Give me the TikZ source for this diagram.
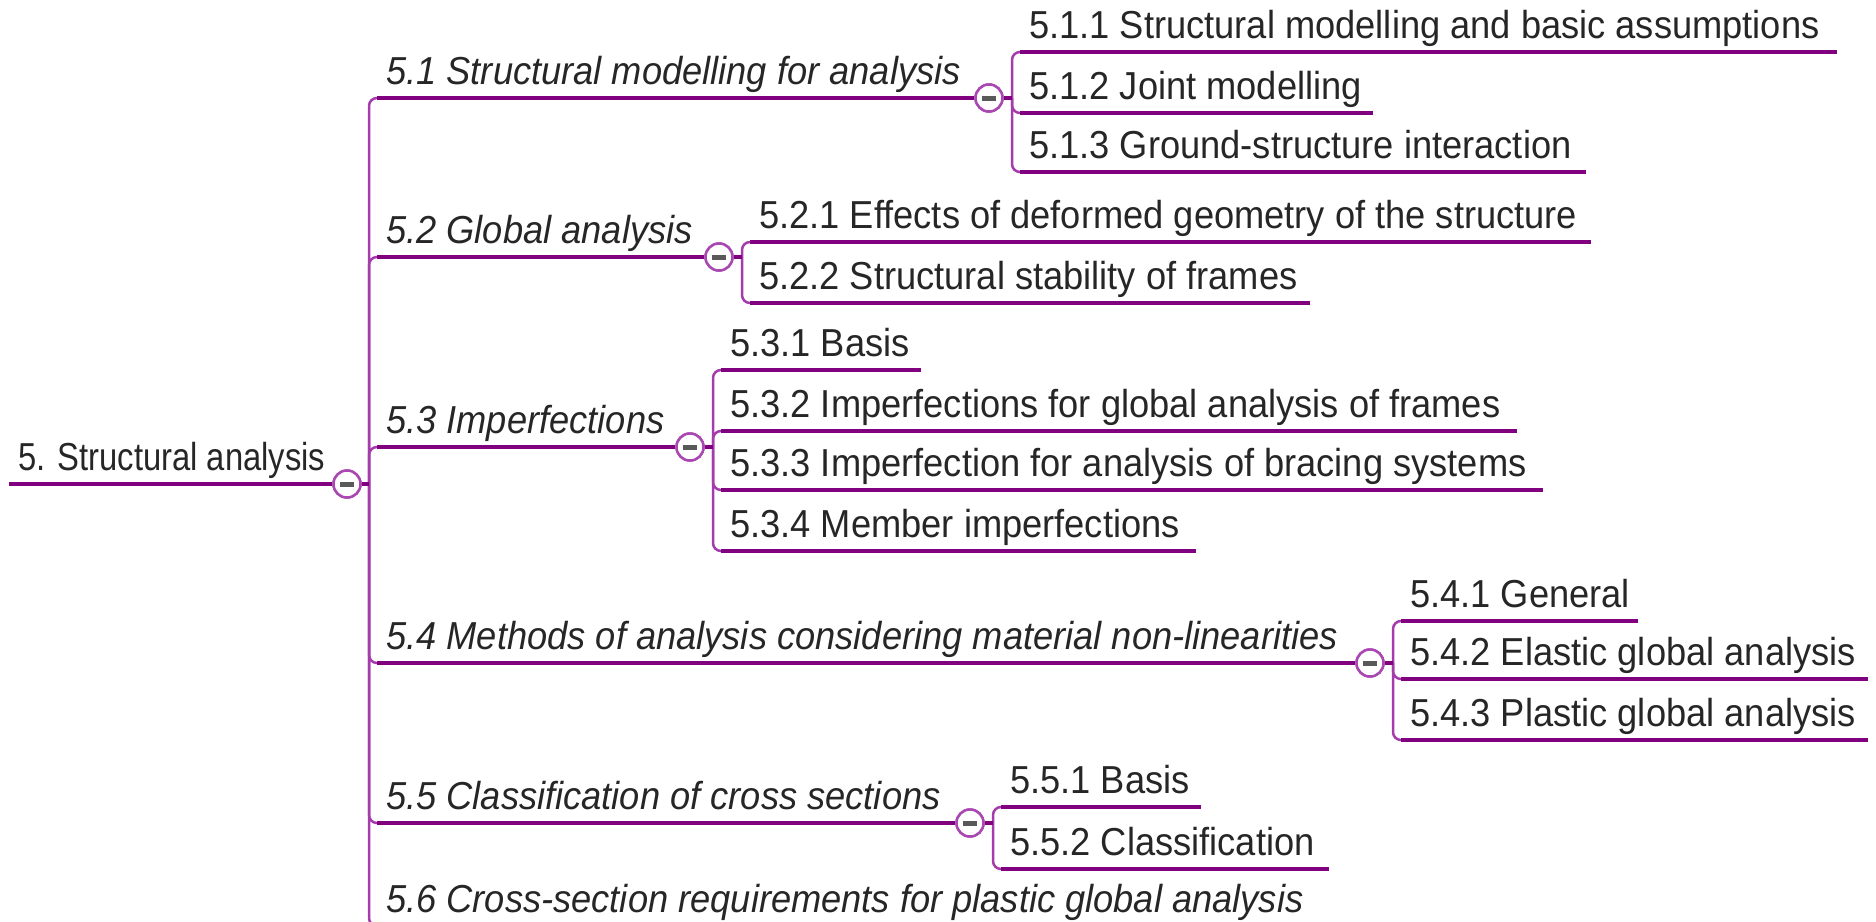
\documentclass[tikz,border=0pt]{standalone}
\usepackage{fontspec}
\setmainfont{Liberation Sans}[FakeStretch=0.93]
\newfontfamily\rootfont{Liberation Sans}[FakeStretch=0.84]
\definecolor{ul}{HTML}{800080}
\definecolor{vl}{HTML}{A43CAC}
\definecolor{cl}{HTML}{A848B0}
\definecolor{tx}{HTML}{262626}
\newcommand\ulbox[2]{\makebox[#1pt][l]{#2}}
\begin{document}
\begin{tikzpicture}[x=1pt,y=-1pt,
  txt/.style={anchor=south west, inner xsep=9pt, inner ysep=0pt, text height=29pt, text depth=13pt, text=tx, font=\fontsize{39}{47}\selectfont},
  rootn/.style={txt, font=\rootfont\fontsize{39}{47}\selectfont},
  lone/.style={txt, font=\fontsize{39}{47}\selectfont\itshape},
  ltwo/.style={txt},
  uline/.style={draw=ul, line width=3.2pt},
  vline/.style={draw=vl, line width=2.5pt, rounded corners=8pt},
  stub/.style={draw=ul, line width=4.5pt},
  tog/.style={circle, draw=cl, line width=2.5pt, fill=white, minimum size=27pt, inner sep=0pt,
     path picture={\fill[black!65] ([xshift=-7pt,yshift=-2.5pt]path picture bounding box.center) rectangle ([xshift=7pt,yshift=2.5pt]path picture bounding box.center);}},
]
\useasboundingbox (0,0) rectangle (1876,921);

% root
\node[rootn] (n5) at (9,484) {5. Structural analysis};
\node[tog] (c5) at (347,484) {};
\coordinate (t) at (369,484);

% level 1
\node[lone] (n51) at (377,98) {5.1 Structural modelling for analysis};
\node[lone] (n52) at (377,257) {5.2 Global analysis};
\node[lone] (n53) at (377,447) {5.3 Imperfections};
\node[lone] (n54) at (377,663) {5.4 Methods of analysis considering material non-linearities};
\node[lone] (n55) at (377,823) {5.5 Classification of cross sections};
\node[lone] (n56) at (377,926) {5.6 Cross-section requirements for plastic global analysis};

\node[tog] (c51) at (989,98) {};
\node[tog] (c52) at (719,257) {};
\node[tog] (c53) at (690,447) {};
\node[tog] (c54) at (1370,663) {};
\node[tog] (c55) at (970,823) {};

\coordinate (b51) at (1012,98);
\coordinate (b52) at (742,257);
\coordinate (b53) at (713,447);
\coordinate (b54) at (1393,663);
\coordinate (b55) at (993,823);

% level 2
\node[ltwo] (n511) at (1020,52) {\ulbox{799}{5.1.1 Structural modelling and basic assumptions}};
\node[ltwo] (n512) at (1020,113) {\ulbox{335}{5.1.2 Joint modelling}};
\node[ltwo] (n513) at (1020,172) {\ulbox{548}{5.1.3 Ground-structure interaction}};

\node[ltwo] (n521) at (750,242) {\ulbox{823}{5.2.1 Effects of deformed geometry of the structure}};
\node[ltwo] (n522) at (750,303) {\ulbox{542}{5.2.2 Structural stability of frames}};

\node[ltwo] (n531) at (721,370) {\ulbox{182}{5.3.1 Basis}};
\node[ltwo] (n532) at (721,431) {\ulbox{778}{5.3.2 Imperfections for global analysis of frames}};
\node[ltwo] (n533) at (721,490) {\ulbox{804}{5.3.3 Imperfection for analysis of bracing systems}};
\node[ltwo] (n534) at (721,551) {\ulbox{457}{5.3.4 Member imperfections}};

\node[ltwo] (n541) at (1401,621) {\ulbox{219}{5.4.1 General}};
\node[ltwo] (n542) at (1401,679) {\ulbox{449}{5.4.2 Elastic global analysis}};
\node[ltwo] (n543) at (1401,740) {\ulbox{449}{5.4.3 Plastic global analysis}};

\node[ltwo] (n551) at (1001,807) {\ulbox{182}{5.5.1 Basis}};
\node[ltwo] (n552) at (1001,869) {\ulbox{310}{5.5.2 Classification}};

% brackets (light vertical connectors)
\foreach \n in {n51,n52,n53,n54,n55,n56} \draw[vline] (t) |- (\n.south west);
\foreach \n in {n511,n512,n513} \draw[vline] (b51) |- (\n.south west);
\foreach \n in {n521,n522} \draw[vline] (b52) |- (\n.south west);
\foreach \n in {n531,n532,n533,n534} \draw[vline] (b53) |- (\n.south west);
\foreach \n in {n541,n542,n543} \draw[vline] (b54) |- (\n.south west);
\foreach \n in {n551,n552} \draw[vline] (b55) |- (\n.south west);

% underlines
\draw[uline] (n5.south west) -- (c5.west);
\draw[uline] (n51.south west) -- (c51.west);
\draw[uline] (n52.south west) -- (c52.west);
\draw[uline] (n53.south west) -- (c53.west);
\draw[uline] (n54.south west) -- (c54.west);
\draw[uline] (n55.south west) -- (c55.west);
\draw[uline] (n56.south west) -- (n56.south east);
\foreach \n in {n511,n512,n513,n521,n522,n531,n532,n533,n534,n541,n542,n543,n551,n552}
  \draw[uline] (\n.south west) -- (\n.south east);

% stubs from toggles to brackets
\draw[stub] (c5.east) -- (t);
\draw[stub] (c51.east) -- (b51);
\draw[stub] (c52.east) -- (b52);
\draw[stub] (c53.east) -- (b53);
\draw[stub] (c54.east) -- (b54);
\draw[stub] (c55.east) -- (b55);

% toggles on top
\foreach \c/\p in {c5/{347,484},c51/{989,98},c52/{719,257},c53/{690,447},c54/{1370,663},c55/{970,823}}
  \node[tog] at (\p) {};
\end{tikzpicture}
\end{document}
